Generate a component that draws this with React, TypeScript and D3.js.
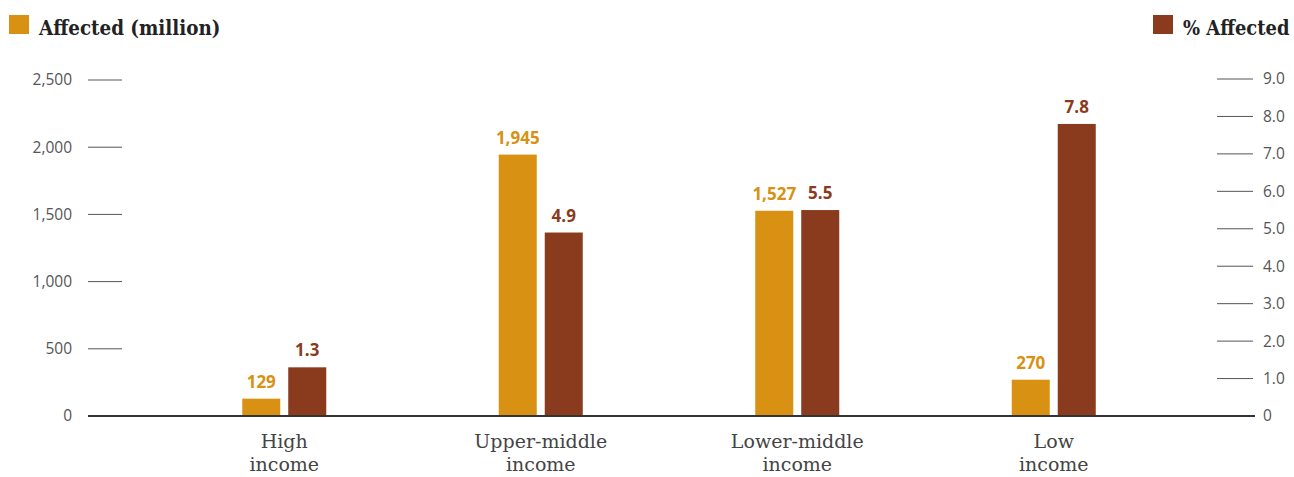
import React from "react";
import * as d3 from "d3";

const categories = [["High", "income"], ["Upper-middle", "income"], ["Lower-middle", "income"], ["Low", "income"]];
const affectedMillion = [129, 1945, 1527, 270];
const pctAffected = [1.3, 4.9, 5.5, 7.8];
const leftTicks = [0, 500, 1000, 1500, 2000, 2500];
const rightTicks = [0, 1, 2, 3, 4, 5, 6, 7, 8, 9];

const ORANGE = "#D89112";
const BROWN = "#8A3B1D";
const W = 1294;
const H = 477;

export default function App() {
  const baseY = 416;
  const yL = d3.scaleLinear().domain([0, 2500]).range([baseY, 80]);
  const yR = d3.scaleLinear().domain([0, 9]).range([baseY, 79]);
  const x = d3.scaleBand<number>().domain(d3.range(categories.length)).range([156, 1182]).padding(0);
  const barW = 38;
  const gap = 8;
  const fmt = d3.format(",");
  const fmtR = (v: number) => (v === 0 ? "0" : d3.format(".1f")(v));

  return (
    <svg width={W} height={H} style={{ position: "absolute", left: 0, top: 0 }}>
      {/* legends */}
      <rect x={9} y={15} width={20} height={19} fill={ORANGE} />
      <text transform="translate(39,35) scale(0.94,1)" fontFamily="DejaVu Serif" fontWeight="bold" fontSize={19.5} fill="#222">Affected (million)</text>
      <rect x={1153} y={15} width={20} height={19} fill={BROWN} />
      <text transform="translate(1183,35) scale(0.92,1)" fontFamily="DejaVu Serif" fontWeight="bold" fontSize={19.5} fill="#222">% Affected</text>

      {/* left axis */}
      {leftTicks.map((t) => (
        <g key={"l" + t}>
          {t !== 0 && <line x1={88} x2={122} y1={yL(t)} y2={yL(t)} stroke="#555" strokeWidth={1} />}
          <text x={72} y={yL(t)} dy="0.35em" textAnchor="end" fontFamily="Open Sans" fontSize={15.5} fill="#555">{fmt(t)}</text>
        </g>
      ))}
      {/* right axis */}
      {rightTicks.map((t) => (
        <g key={"r" + t}>
          {t !== 0 && <line x1={1217} x2={1253} y1={yR(t)} y2={yR(t)} stroke="#555" strokeWidth={1} />}
          <text x={1263} y={yR(t)} dy="0.35em" textAnchor="start" fontFamily="Open Sans" fontSize={15.5} fill="#555">{fmtR(t)}</text>
        </g>
      ))}

      {/* bars */}
      {categories.map((c, i) => {
        const cx = (x(i) as number) + x.bandwidth() / 2;
        const ox = cx - gap / 2 - barW;
        const bx = cx + gap / 2;
        return (
          <g key={"b" + i}>
            <rect x={ox} y={yL(affectedMillion[i])} width={barW} height={baseY - yL(affectedMillion[i])} fill={ORANGE} />
            <rect x={bx} y={yR(pctAffected[i])} width={barW} height={baseY - yR(pctAffected[i])} fill={BROWN} />
            <text x={ox + barW / 2} y={yL(affectedMillion[i]) - 11} textAnchor="middle" fontFamily="Open Sans" fontWeight="bold" fontSize={17} fill={ORANGE}>{fmt(affectedMillion[i])}</text>
            <text x={bx + barW / 2} y={yR(pctAffected[i]) - 11} textAnchor="middle" fontFamily="Open Sans" fontWeight="bold" fontSize={17} fill={BROWN}>{pctAffected[i].toFixed(1)}</text>
            <text x={cx} y={448} textAnchor="middle" fontFamily="DejaVu Serif" fontWeight="300" fontSize={19} fill="#444">{c[0]}</text>
            <text x={cx} y={471} textAnchor="middle" fontFamily="DejaVu Serif" fontWeight="300" fontSize={19} fill="#444">{c[1]}</text>
          </g>
        );
      })}

      {/* baseline */}
      <line x1={88} x2={1255} y1={baseY} y2={baseY} stroke="#333" strokeWidth={2} />
    </svg>
  );
}
